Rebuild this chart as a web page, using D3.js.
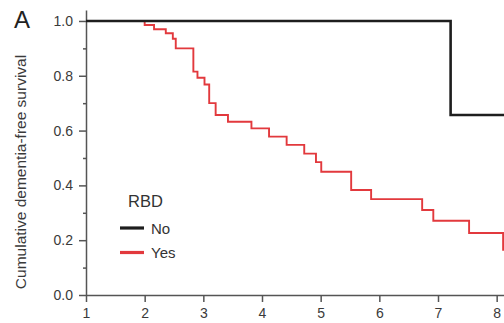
<!DOCTYPE html>
<html><head><meta charset="utf-8">
<script src="https://cdn.jsdelivr.net/npm/d3@7"></script>
<style>
html,body{margin:0;padding:0;background:#fff;}
svg{display:block;font-family:"Liberation Sans",Arial,Helvetica,sans-serif;}
</style></head>
<body>
<svg id="chart" width="504" height="323"></svg>
<script>
// ---- data ----
const seriesNames = ["No", "Yes"];
// step changes: times (years) and survival after each drop
const noTimes = [1, 7.215, 8.3];
const noValues = [1.0, 0.657, 0.657];
const yesTimes = [1, 2.0, 2.16, 2.36, 2.48, 2.53, 2.83, 2.90, 3.02, 3.10, 3.21, 3.42, 3.82, 4.12, 4.42, 4.72, 4.92, 5.01, 5.52, 5.86, 6.73, 6.92, 7.53, 8.11, 8.3];
const yesValues = [1.0, 0.985, 0.97, 0.955, 0.935, 0.90, 0.815, 0.793, 0.768, 0.70, 0.657, 0.632, 0.608, 0.578, 0.548, 0.516, 0.485, 0.45, 0.383, 0.35, 0.31, 0.271, 0.226, 0.165, 0.165];
const xTicks = [1, 2, 3, 4, 5, 6, 7, 8];
const yTicks = [0.0, 0.2, 0.4, 0.6, 0.8, 1.0];
const yMinorTicks = [0.1, 0.3, 0.5, 0.7, 0.9];
const colors = {No: "#1e1e1e", Yes: "#e2393d"};

// ---- layout ----
const svg = d3.select("#chart");
const x = d3.scaleLinear().domain([1, 8.125]).range([86, 504]);
const y = d3.scaleLinear().domain([0, 1.04]).range([295, 10]);
const axisColor = "#555";

svg.append("defs").append("clipPath").attr("id", "clip")
  .append("rect").attr("x", 86).attr("y", 0).attr("width", 418).attr("height", 296);

// axes
const xAxis = svg.append("g").attr("transform", `translate(0,${y(0)})`)
  .call(d3.axisBottom(x).tickValues(xTicks).tickFormat(d3.format("d")).tickSize(7).tickSizeOuter(0));
const yAxis = svg.append("g").attr("transform", `translate(${x(1)},0)`)
  .call(d3.axisLeft(y).tickValues(yTicks).tickFormat(d3.format(".1f")).tickSize(7).tickSizeOuter(0));
svg.append("g").attr("transform", `translate(${x(1)},0)`)
  .call(d3.axisLeft(y).tickValues(yMinorTicks).tickFormat("").tickSize(3).tickSizeOuter(0))
  .select(".domain").remove();

svg.selectAll(".domain").attr("stroke", axisColor).attr("stroke-width", 1.5);
svg.selectAll(".tick line").attr("stroke", axisColor).attr("stroke-width", 1.5);
xAxis.selectAll(".tick text").attr("fill", "#3a3a3a").style("font-size", "14px").attr("dy", "0.95em").attr("y", 10);
yAxis.selectAll(".tick text").attr("fill", "#3a3a3a").style("font-size", "14px").attr("x", -13);

// lines
const line = d3.line().curve(d3.curveStepAfter).x(d => x(d[0])).y(d => y(d[1]));
const plot = svg.append("g").attr("clip-path", "url(#clip)");
plot.append("path").datum(yesTimes.map((t, i) => [t, yesValues[i]]))
  .attr("d", line).attr("fill", "none").attr("stroke", colors.Yes).attr("stroke-width", 1.9);
plot.append("path").datum(noTimes.map((t, i) => [t, noValues[i]]))
  .attr("d", line).attr("fill", "none").attr("stroke", colors.No).attr("stroke-width", 2.6);

// y title
svg.append("text").attr("transform", "translate(26,172) rotate(-90)")
  .attr("text-anchor", "middle").attr("fill", "#3a3a3a").style("font-size", "15.5px")
  .text("Cumulative dementia-free survival");

// panel label
svg.append("text").attr("x", 14).attr("y", 28).attr("fill", "#222").style("font-size", "24px").text("A");

// legend
svg.append("text").attr("x", 128).attr("y", 207).attr("fill", "#333").style("font-size", "16.5px").text("RBD");
const leg = svg.append("g");
seriesNames.forEach((name, i) => {
  const ly = 228 + i * 24.5;
  leg.append("line").attr("x1", 120).attr("x2", 144).attr("y1", ly).attr("y2", ly)
    .attr("stroke", colors[name]).attr("stroke-width", 3.2);
  leg.append("text").attr("x", 151).attr("y", ly + 5.5).attr("fill", "#333").style("font-size", "15px").text(name);
});
</script>
</body></html>
